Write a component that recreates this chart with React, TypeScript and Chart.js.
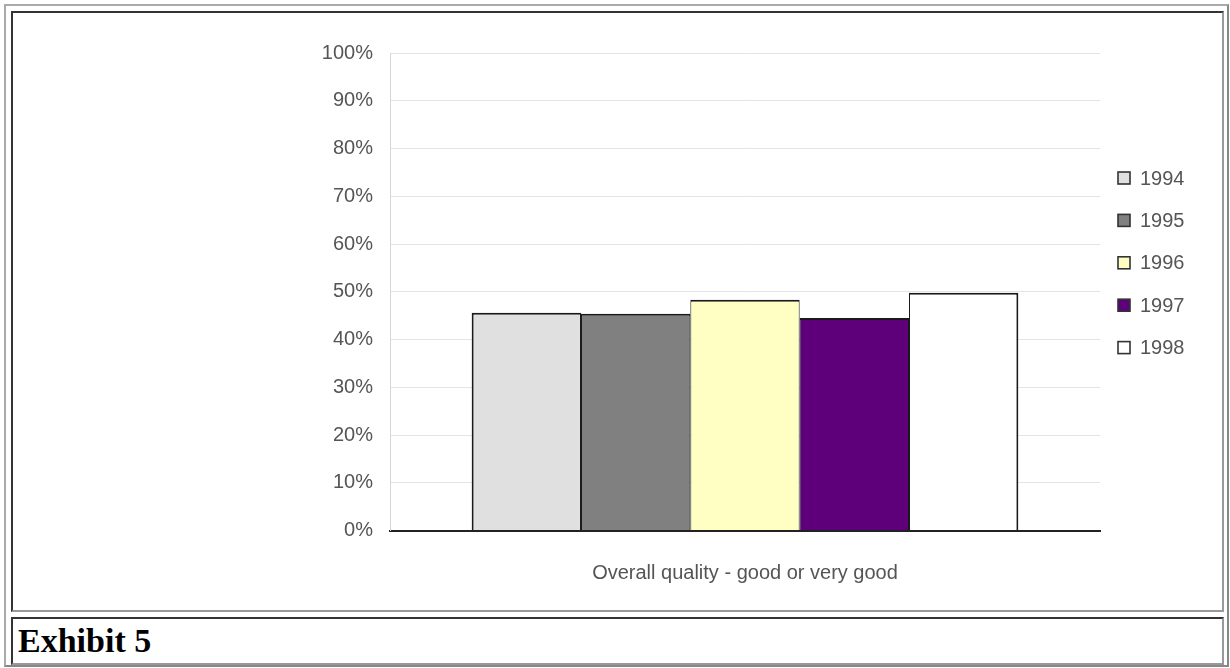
import React, { useEffect, useRef } from "react";
import { Chart, registerables } from "chart.js";

Chart.register(...registerables);

const categories = ["Overall quality - good or very good"];
const years = ["1994", "1995", "1996", "1997", "1998"];
const values1994 = [45.6];
const values1995 = [45.4];
const values1996 = [48.3];
const values1997 = [44.5];
const values1998 = [49.8];
const seriesValues = [values1994, values1995, values1996, values1997, values1998];
const seriesColors = ["#e0e0e0", "#808080", "#ffffc4", "#5e0079", "#ffffff"];
const yMin = 0;
const yMax = 100;
const yStep = 10;

const FONT = "'Liberation Sans', Arial, sans-serif";

const legendPlugin = {
  id: "sideLegend",
  afterDraw(chart: any) {
    const { ctx, chartArea } = chart;
    ctx.save();
    ctx.font = `20px ${FONT}`;
    ctx.textBaseline = "middle";
    ctx.textAlign = "left";
    chart.data.datasets.forEach((ds: any, i: number) => {
      const cy = chartArea.top + 125 + i * 42.4;
      const bx = chartArea.right + 18;
      ctx.fillStyle = ds.backgroundColor;
      ctx.fillRect(bx, cy - 6, 12, 12);
      ctx.strokeStyle = "#333";
      ctx.lineWidth = 1.6;
      ctx.strokeRect(bx, cy - 6, 12, 12);
      ctx.fillStyle = "#555";
      ctx.fillText(ds.label, chartArea.right + 40, cy + 1);
    });
    ctx.restore();
  },
};

function ChartView() {
  const ref = useRef<HTMLCanvasElement | null>(null);
  useEffect(() => {
    if (!ref.current) return;
    const n = years.length;
    const chart = new Chart(ref.current, {
      type: "bar",
      data: {
        labels: categories,
        datasets: years.map((y, i) => ({
          label: y,
          data: seriesValues[i],
          backgroundColor: seriesColors[i],
          borderColor: "#1a1a1a",
          borderWidth: {
            top: 2,
            left: i === 0 ? 2 : 1,
            right: i === n - 1 ? 2 : 1,
            bottom: 0,
          },
          categoryPercentage: 0.77,
          barPercentage: 1,
        })),
      },
      options: {
        animation: false,
        responsive: false,
        devicePixelRatio: 1,
        layout: { padding: { left: 277, right: 122, top: 40, bottom: 20.5 } },
        plugins: {
          legend: { display: false },
          tooltip: { enabled: false },
        },
        scales: {
          x: {
            grid: { display: false, drawTicks: false },
            border: { display: true, color: "#222", width: 2 },
            ticks: {
              padding: 31,
              color: "#555",
              font: { family: FONT, size: 20 },
            },
            afterFit: (s: any) => {
              s.height = 60;
            },
          },
          y: {
            min: yMin,
            max: yMax,
            grid: { color: "#e4e4e4", drawTicks: false, lineWidth: 1 },
            border: { display: true, color: "#d6d6d6", width: 1 },
            ticks: {
              stepSize: yStep,
              padding: 17,
              color: "#555",
              font: { family: FONT, size: 20 },
              callback: (v: any) => `${v}%`,
            },
            afterFit: (s: any) => {
              s.width = 100;
            },
          },
        },
      },
      plugins: [legendPlugin],
    });
    return () => chart.destroy();
  }, []);
  return <canvas ref={ref} width={1209} height={598} style={{ display: "block" }} />;
}

export default function App() {
  return (
    <div style={{ position: "absolute", left: 0, top: 0, width: 1230, height: 668, background: "#fff" }}>
      {/* outer table border */}
      <div
        style={{
          position: "absolute",
          left: 4,
          top: 4,
          width: 1229 - 4,
          height: 667 - 4,
          boxSizing: "border-box",
          borderStyle: "solid",
          borderWidth: 2,
          borderColor: "#aaa #888 #888 #aaa",
        }}
      />
      {/* chart cell */}
      <div
        style={{
          position: "absolute",
          left: 11,
          top: 11,
          width: 1224 - 11,
          height: 612 - 11,
          boxSizing: "border-box",
          borderStyle: "solid",
          borderWidth: 2,
          borderColor: "#333 #999 #999 #333",
        }}
      />
      <div style={{ position: "absolute", left: 13, top: 13 }}>
        <ChartView />
      </div>
      {/* caption cell */}
      <div
        style={{
          position: "absolute",
          left: 11,
          top: 617,
          width: 1224 - 11,
          height: 665 - 617,
          boxSizing: "border-box",
          borderStyle: "solid",
          borderWidth: 2,
          borderColor: "#333 #999 #999 #333",
          fontFamily: "'Liberation Serif', 'Times New Roman', serif",
          fontWeight: "bold",
          fontSize: 34,
          lineHeight: "44px",
          paddingLeft: 5,
          color: "#000",
        }}
      >
        Exhibit 5
      </div>
    </div>
  );
}
